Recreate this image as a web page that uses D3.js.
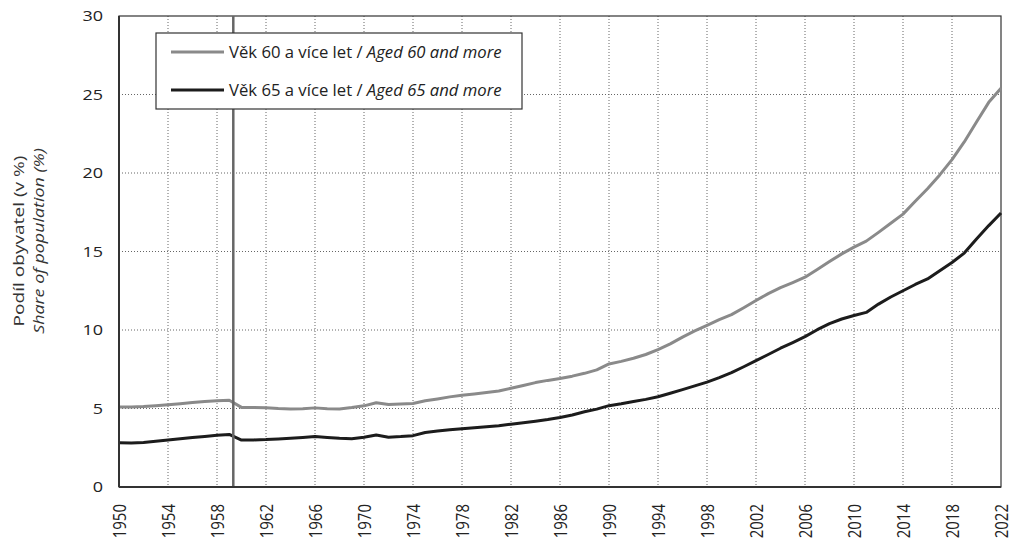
<!DOCTYPE html>
<html><head><meta charset="utf-8">
<script src="https://cdn.jsdelivr.net/npm/d3@7"></script>
<style>
body{margin:0;background:#fff;}
svg{display:block;font-family:"Open Sans","Noto Sans",sans-serif;}
</style></head>
<body><svg id="c" width="1013" height="541"></svg>
<script>
const years = d3.range(1950, 2023);
const aged60 = [5.10,5.10,5.12,5.18,5.24,5.31,5.38,5.44,5.49,5.53,
 5.07,5.06,5.05,5.00,4.97,4.99,5.04,4.98,4.97,5.06,
 5.17,5.37,5.25,5.28,5.32,5.49,5.61,5.74,5.85,5.93,
 6.02,6.12,6.29,6.47,6.65,6.79,6.91,7.06,7.24,7.46,
 7.84,8.00,8.20,8.44,8.75,9.12,9.55,9.94,10.30,10.66,
 10.98,11.42,11.88,12.32,12.70,13.02,13.36,13.85,14.36,14.85,
 15.28,15.66,16.22,16.80,17.38,18.20,19.00,19.88,20.85,21.98,
 23.25,24.50,25.40];
const aged65 = [2.82,2.81,2.84,2.91,2.99,3.07,3.15,3.22,3.29,3.35,
 2.99,3.00,3.02,3.06,3.10,3.15,3.21,3.15,3.10,3.08,
 3.17,3.31,3.17,3.21,3.27,3.47,3.56,3.64,3.71,3.77,
 3.83,3.90,4.00,4.09,4.19,4.30,4.43,4.59,4.79,4.96,
 5.18,5.30,5.44,5.58,5.75,5.97,6.20,6.44,6.68,6.97,
 7.28,7.66,8.05,8.44,8.84,9.20,9.58,10.02,10.40,10.70,
 10.92,11.12,11.65,12.10,12.50,12.90,13.25,13.78,14.30,14.90,
 15.80,16.65,17.45];
const xTicks = d3.range(1950, 2023, 4);
const yTicks = [0,5,10,15,20,25,30];
const breakYear = 1959.33;
const seriesNames = ["Věk 60 a více let / ", "Věk 65 a více let / "];
const seriesNamesEn = ["Aged 60 and more", "Aged 65 and more"];
const yTitle = ["Podíl obyvatel (v %)", "Share of population (%)"];

const svg = d3.select("#c");
const L = 119, R = 1001, T = 16, B = 487;
const x = d3.scaleLinear().domain([1950, 2022]).range([L, R]);
const y = d3.scaleLinear().domain([0, 30]).range([B, T]);

// grid
const g = svg.append("g");
g.selectAll(".vg").data(xTicks.filter(d => d > 1950 && d < 2022)).join("line")
  .attr("x1", d => x(d)).attr("x2", d => x(d)).attr("y1", T).attr("y2", B)
  .attr("stroke", "#666").attr("stroke-width", 1).attr("stroke-dasharray", "1,2");
g.selectAll(".hg").data(yTicks.filter(d => d > 0 && d < 30)).join("line")
  .attr("x1", L).attr("x2", R).attr("y1", d => y(d)).attr("y2", d => y(d))
  .attr("stroke", "#666").attr("stroke-width", 1).attr("stroke-dasharray", "1,2");

// frame
svg.append("rect").attr("x", L).attr("y", T).attr("width", R - L).attr("height", B - T)
  .attr("fill", "none").attr("stroke", "#333").attr("stroke-width", 1.2);

// lines
const line = arr => d3.line().x((d, i) => x(years[i])).y(d => y(d))(arr);
svg.append("path").attr("d", line(aged60)).attr("fill", "none")
  .attr("stroke", "#8a8a8a").attr("stroke-width", 3).attr("stroke-linejoin", "round");
svg.append("path").attr("d", line(aged65)).attr("fill", "none")
  .attr("stroke", "#1c1c1c").attr("stroke-width", 3).attr("stroke-linejoin", "round");

// break line
svg.append("line").attr("x1", x(breakYear)).attr("x2", x(breakYear)).attr("y1", T).attr("y2", B)
  .attr("stroke", "#666").attr("stroke-width", 2.5);

// axes lines bottom/left thicker
svg.append("line").attr("x1", L).attr("x2", R).attr("y1", B).attr("y2", B).attr("stroke", "#333").attr("stroke-width", 2.2);
svg.append("line").attr("x1", L).attr("x2", L).attr("y1", T).attr("y2", B).attr("stroke", "#333").attr("stroke-width", 2);

// y axis labels
const ya = svg.append("g").attr("transform", `translate(${L},0)`)
  .call(d3.axisLeft(y).tickValues(yTicks).tickSize(0));
ya.select(".domain").remove();
ya.selectAll("text").attr("font-size", 15).attr("fill", "#222").attr("font-family", "'Open Sans',sans-serif")
  .attr("x", -16 / 1.2).attr("transform", "scale(1.2,1)");

// x axis labels
const xa = svg.append("g").attr("transform", `translate(0,${B})`)
  .call(d3.axisBottom(x).tickValues(xTicks).tickFormat(d3.format("d")).tickSize(0));
xa.select(".domain").remove();
xa.selectAll("text").attr("font-size", 15).attr("fill", "#222").attr("font-family", "'Open Sans',sans-serif")
  .attr("transform", "rotate(-90) scale(1,1.25)").attr("text-anchor", "end").attr("x", -17).attr("y", 0).attr("dy", "0.35em");

// y title
const ytg = svg.append("g").attr("transform", "translate(0,241) rotate(-90)");
const tLen = [171, 186];
yTitle.forEach((s, i) => {
  const t = ytg.append("text").attr("x", 0).attr("y", [24, 44][i])
    .attr("text-anchor", "middle").attr("font-size", 14.5).attr("fill", "#333")
    .attr("font-style", i ? "italic" : "normal").text(s);
  const w = t.node().getComputedTextLength();
  t.attr("transform", `scale(${tLen[i] / w},1)`);
});

// legend
const lg = svg.append("g");
lg.append("rect").attr("x", 156).attr("y", 33).attr("width", 366).attr("height", 76)
  .attr("fill", "#fff").attr("stroke", "#333").attr("stroke-width", 1.2);
const lcols = ["#8a8a8a", "#1c1c1c"];
const ly = [52, 90];
[0, 1].forEach(i => {
  lg.append("line").attr("x1", 171).attr("x2", 224).attr("y1", ly[i]).attr("y2", ly[i])
    .attr("stroke", lcols[i]).attr("stroke-width", 3);
  const t = lg.append("text").attr("x", 229).attr("y", ly[i]).attr("dy", "0.35em")
    .attr("font-size", 16).attr("fill", "#222");
  t.append("tspan").text(seriesNames[i]);
  t.append("tspan").attr("font-style", "italic").text(seriesNamesEn[i]);
  const w = t.node().getBBox().width;
  const k = 273 / w;
  t.attr("transform", `translate(229,0) scale(${k},1) translate(-229,0)`);
});
</script></body></html>
